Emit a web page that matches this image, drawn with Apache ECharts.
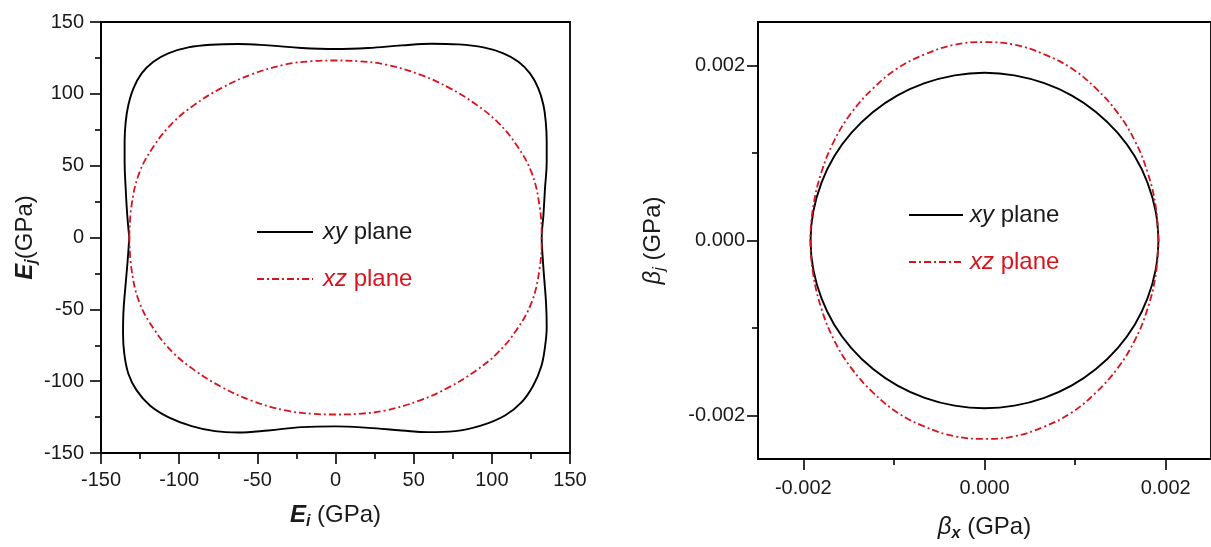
<!DOCTYPE html>
<html>
<head>
<meta charset="utf-8">
<script src="https://cdn.jsdelivr.net/npm/echarts@6/dist/echarts.min.js"></script>
<style>
html,body{margin:0;padding:0;background:#fff;}
#chart{width:1211px;height:547px;}
</style>
</head>
<body>
<div id="chart"></div>
<script>
// ---------- data ----------
const seriesNames = ['xy plane', 'xz plane'];

// Left panel: Young's modulus E (GPa)
const eXyX = [-131.9,-133.2,-134.2,-134.9,-134.9,-134.2,-132.5,-129.3,-124,-116.5,-107,-94.1,-79.2,-62.2,-43,-21.6,0,21,42.3,61.5,78.6,94.6,107.4,117,124.4,129.8,133,134.5,135.1,135.1,134,133,131.9,
              132.5,133.6,134.7,135.1,134,131.5,126.5,119.1,108.4,93.5,76.4,59.4,42.3,21,0,-21.6,-43,-62.2,-77.1,-92,-107,-118.7,-127.2,-132.5,-135.1,-135.9,-135.7,-134.6,-133.1,-131.9];
const eXyY = [0,15.5,34,52.7,66.6,80.5,92.2,103.7,114.2,122.3,128.2,132.3,134.2,134.7,133.7,131.9,131.2,131.9,133.7,134.9,134.4,132.3,128.2,122.3,114.2,103.7,92.2,80.5,66.6,52.7,34,15.5,0,
              -13.5,-29.8,-46.1,-62.3,-76.2,-90.2,-103,-114.6,-123.9,-130.8,-134.8,-135.5,-134.3,-132.5,-131.5,-132,-134.3,-135.7,-134.8,-131.3,-125,-116.9,-106.4,-94.8,-80.9,-67,-53,-36.8,-18.2,0];
const eXzX = [-131.9,-130.5,-125.5,-116,-104,-90,-73,-54,-32,-15,0,15,32,54,73,90,104,116,125.5,130.5,131.9,
              130.5,125.5,116,104,90,73,54,32,15,0,-15,-32,-54,-73,-90,-104,-116,-125.5,-130.5,-131.9];
const eXzY = [0,22,45,64,80,92.5,104,113.4,120.4,122.7,123.2,122.7,120.4,113.4,104,92.5,80,64,45,22,0,
              -22,-45,-64,-80,-92.5,-104,-113.4,-120.4,-122.7,-123.2,-122.7,-120.4,-113.4,-104,-92.5,-80,-64,-45,-22,0];

// Right panel: beta (GPa)
const bXyX = [0.00192,0.00189,0.0018,0.00166,0.00147,0.00123,0.00096,0.00066,0.00033,0,-0.00033,-0.00066,-0.00096,-0.00123,-0.00147,-0.00166,-0.0018,-0.00189,-0.00192,-0.00189,-0.0018,-0.00166,-0.00147,-0.00123,-0.00096,-0.00066,-0.00033,0,0.00033,0.00066,0.00096,0.00123,0.00147,0.00166,0.0018,0.00189,0.00192];
const bXyY = [0,0.00033,0.00066,0.00096,0.00123,0.00147,0.00166,0.0018,0.00189,0.00192,0.00189,0.0018,0.00166,0.00147,0.00123,0.00096,0.00066,0.00033,0,-0.00033,-0.00066,-0.00096,-0.00123,-0.00147,-0.00166,-0.0018,-0.00189,-0.00192,-0.00189,-0.0018,-0.00166,-0.00147,-0.00123,-0.00096,-0.00066,-0.00033,0];
const bXzX = [0.00192,0.00189,0.0018,0.00166,0.00147,0.00123,0.00096,0.00066,0.00033,0,-0.00033,-0.00066,-0.00096,-0.00123,-0.00147,-0.00166,-0.0018,-0.00189,-0.00192,-0.00189,-0.0018,-0.00166,-0.00147,-0.00123,-0.00096,-0.00066,-0.00033,0,0.00033,0.00066,0.00096,0.00123,0.00147,0.00166,0.0018,0.00189,0.00192];
const bXzY = [0,0.00039,0.00078,0.00114,0.00146,0.00174,0.00197,0.00213,0.00224,0.00227,0.00224,0.00213,0.00197,0.00174,0.00146,0.00114,0.00078,0.00039,0,-0.00039,-0.00078,-0.00114,-0.00146,-0.00174,-0.00197,-0.00213,-0.00224,-0.00227,-0.00224,-0.00213,-0.00197,-0.00174,-0.00146,-0.00114,-0.00078,-0.00039,0];

// Axis ranges / ticks
const eRange = [-150, 150];
const eInterval = 50;
const bRange = [-0.0025, 0.0025];
const bMajorTicks = [-0.002, 0, 0.002];
const bMinorTicks = [-0.001, 0.001];

// ---------- chart ----------
const FONT = '"Liberation Sans", Arial, sans-serif';
const INK = '#1a1a1a';
const RED = '#d7141e';
const pairs = (xs, ys) => xs.map((x, i) => [x, ys[i]]);

const tickLabel = { fontSize: 20, fontFamily: FONT, color: INK };
const axisLineStyle = { show: true, onZero: false, lineStyle: { color: '#000', width: 1.8 } };
const hiddenLine = { show: false, onZero: false };
const tickLine = { color: '#000', width: 1.6 };

function nameStyle() {
  return {
    fontSize: 24, fontFamily: FONT, color: INK, lineHeight: 30,
    rich: {
      b: { fontSize: 24, fontFamily: FONT, fontWeight: 'bold', fontStyle: 'italic', color: INK, lineHeight: 30 },
      g: { fontSize: 24, fontFamily: FONT, fontStyle: 'italic', color: INK, lineHeight: 30 },
      s: { fontSize: 16, fontFamily: FONT, fontWeight: 'bold', fontStyle: 'italic', color: INK, lineHeight: 14, verticalAlign: 'bottom' },
      si: { fontSize: 16, fontFamily: FONT, fontStyle: 'italic', color: INK, lineHeight: 14, verticalAlign: 'bottom' }
    }
  };
}

const legendFormatter = function (name) {
  return name === seriesNames[0] ? '{ib|xy} plane' : '{ir|xz} plane';
};
function makeLegend(left, top, itemWidth, textPad) {
  return {
    left: left, top: top, orient: 'vertical', padding: 0,
    itemWidth: itemWidth, itemHeight: 14, itemGap: 19,
    itemStyle: { opacity: 0 },
    formatter: legendFormatter,
    selectedMode: false,
    data: [
      { name: seriesNames[0], textStyle: { color: INK } },
      { name: seriesNames[1], textStyle: { color: RED } }
    ],
    textStyle: {
      fontSize: 24, fontFamily: FONT, lineHeight: 28, padding: [0, 0, 0, textPad],
      rich: {
        ib: { fontSize: 24, fontFamily: FONT, fontStyle: 'italic', color: INK, lineHeight: 28 },
        ir: { fontSize: 24, fontFamily: FONT, fontStyle: 'italic', color: RED, lineHeight: 28 }
      }
    }
  };
}

const blackLine = { color: '#000', width: 1.9, type: 'solid' };
const redLine = { color: RED, width: 1.8, type: [7, 3, 2, 3] };

const option = {
  animation: false,
  backgroundColor: '#fff',
  grid: [
    { left: 101, top: 22, width: 469, height: 431, show: true, borderColor: '#000', borderWidth: 1.8 },
    { left: 758, top: 22, width: 456, height: 440, show: true, borderColor: '#000', borderWidth: 1.8 }
  ],
  xAxis: [
    {
      gridIndex: 0, type: 'value', min: eRange[0], max: eRange[1], interval: eInterval,
      axisLine: axisLineStyle,
      axisTick: { show: true, length: 11, lineStyle: tickLine },
      minorTick: { show: true, splitNumber: 2, length: 6, lineStyle: tickLine },
      axisLabel: Object.assign({ margin: 17 }, tickLabel),
      splitLine: { show: false },
      name: '{b|E}{s|i} (GPa)', nameLocation: 'middle', nameGap: 47,
      nameTextStyle: nameStyle()
    },
    {
      gridIndex: 1, type: 'value', min: bRange[0], max: bRange[1], position: 'bottom',
      axisLine: axisLineStyle,
      axisTick: { show: true, length: 11, customValues: bMajorTicks, lineStyle: tickLine },
      axisLabel: Object.assign({ margin: 19, customValues: bMajorTicks, formatter: v => v.toFixed(3) }, tickLabel),
      splitLine: { show: false },
      name: '{g|β}{s|x} (GPa)', nameLocation: 'middle', nameGap: 53,
      nameTextStyle: nameStyle()
    },
    {
      gridIndex: 1, type: 'value', min: bRange[0], max: bRange[1], position: 'bottom',
      axisLine: hiddenLine,
      axisTick: { show: true, length: 6, customValues: bMinorTicks, lineStyle: tickLine },
      axisLabel: { show: false },
      splitLine: { show: false }
    }
  ],
  yAxis: [
    {
      gridIndex: 0, type: 'value', min: eRange[0], max: eRange[1], interval: eInterval,
      axisLine: axisLineStyle,
      axisTick: { show: true, length: 11, lineStyle: tickLine },
      minorTick: { show: true, splitNumber: 2, length: 6, lineStyle: tickLine },
      axisLabel: Object.assign({ margin: 17 }, tickLabel),
      splitLine: { show: false },
      name: '{b|E}{s|j}(GPa)', nameLocation: 'middle', nameGap: 58,
      nameTextStyle: nameStyle()
    },
    {
      gridIndex: 1, type: 'value', min: bRange[0], max: bRange[1], position: 'left',
      axisLine: axisLineStyle,
      axisTick: { show: true, length: 11, customValues: bMajorTicks, lineStyle: tickLine },
      axisLabel: Object.assign({ margin: 13, customValues: bMajorTicks, formatter: v => v.toFixed(3) }, tickLabel),
      splitLine: { show: false },
      name: '{g|β}{si|j} (GPa)', nameLocation: 'middle', nameGap: 90,
      nameTextStyle: nameStyle()
    },
    {
      gridIndex: 1, type: 'value', min: bRange[0], max: bRange[1], position: 'left',
      axisLine: hiddenLine,
      axisTick: { show: true, length: 6, customValues: bMinorTicks, lineStyle: tickLine },
      axisLabel: { show: false },
      splitLine: { show: false }
    }
  ],
  legend: [
    makeLegend(256, 218, 56, 5),
    makeLegend(908, 201, 54, 2)
  ],
  series: [
    { name: seriesNames[0], type: 'line', xAxisIndex: 0, yAxisIndex: 0, data: pairs(eXyX, eXyY),
      showSymbol: false, symbol: 'none', smooth: 0.4, lineStyle: blackLine, itemStyle: { color: '#000' }, z: 3 },
    { name: seriesNames[1], type: 'line', xAxisIndex: 0, yAxisIndex: 0, data: pairs(eXzX, eXzY),
      showSymbol: false, symbol: 'none', smooth: 0.4, lineStyle: redLine, itemStyle: { color: RED }, z: 4 },
    { name: seriesNames[0], type: 'line', xAxisIndex: 1, yAxisIndex: 1, data: pairs(bXyX, bXyY),
      showSymbol: false, symbol: 'none', smooth: 0.4, lineStyle: blackLine, itemStyle: { color: '#000' }, z: 3 },
    { name: seriesNames[1], type: 'line', xAxisIndex: 1, yAxisIndex: 1, data: pairs(bXzX, bXzY),
      showSymbol: false, symbol: 'none', smooth: 0.4, lineStyle: redLine, itemStyle: { color: RED }, z: 4 }
  ]
};

const chart = echarts.init(document.getElementById('chart'), null, { renderer: 'canvas' });
chart.setOption(option);
</script>
</body>
</html>
